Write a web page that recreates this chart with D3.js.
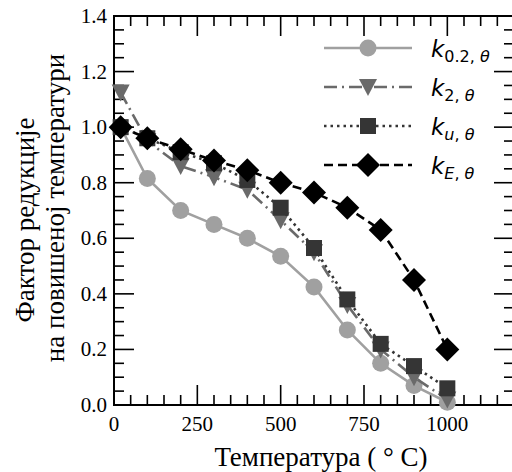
<!DOCTYPE html>
<meta charset="utf-8">
<body style="margin:0;background:#fff">
<style>
text.tick { font-family: "Liberation Serif", "Times New Roman", serif; font-size: 21px; fill: #000; }
text.lbl { font-family: "Liberation Serif", "Times New Roman", serif; font-size: 27px; fill: #000; }
text.leg { font-family: "DejaVu Sans", sans-serif; font-size: 23px; fill: #000; }
</style>
<script src="https://d3js.org/d3.v7.min.js"></script>
<script>

var temps = [20, 100, 200, 300, 400, 500, 600, 700, 800, 900, 1000];

var k02 = [1.00, 0.815, 0.70, 0.65, 0.60, 0.535, 0.425, 0.27, 0.15, 0.07, 0.01];
var k2  = [1.125, 0.95, 0.86, 0.82, 0.775, 0.665, 0.55, 0.36, 0.20, 0.10, 0.02];
var ku  = [1.00, 0.96, 0.91, 0.87, 0.81, 0.71, 0.565, 0.38, 0.22, 0.14, 0.06];
var kE  = [1.00, 0.96, 0.92, 0.88, 0.845, 0.80, 0.765, 0.71, 0.63, 0.45, 0.20];

var xTicks = [0, 250, 500, 750, 1000];
var yTicks = [0.0, 0.2, 0.4, 0.6, 0.8, 1.0, 1.2, 1.4];

var series = [
  {name: "0.2", vals: k02, color: "#a0a0a0", dash: null, shape: "circle"},
  {name: "2",   vals: k2,  color: "#6a6a6a", dash: "13,5,2,5", shape: "tri"},
  {name: "u",   vals: ku,  color: "#353535", dash: "2.5,4", shape: "square"},
  {name: "E",   vals: kE,  color: "#000000", dash: "9,5", shape: "diamond"}
];

var svg = d3.select("body").append("svg")
    .attr("width", 512)
    .attr("height", 472);

var x = d3.scaleLinear().domain([0, 1200]).range([114, 514]);
var y = d3.scaleLinear().domain([0, 1.4]).range([405, 16]);

// inward ticks on all four sides
var g = svg.append("g");
d3.range(0, 1201, 50).forEach(function(v) {
  var len = v % 250 === 0 ? 20 : 10;
  g.append("line").attr("x1", x(v)).attr("x2", x(v)).attr("y1", y(0)).attr("y2", y(0) - len);
  g.append("line").attr("x1", x(v)).attr("x2", x(v)).attr("y1", y(1.4)).attr("y2", y(1.4) + len);
});
d3.range(0, 29).forEach(function(i) {
  var v = i * 0.05;
  var len = i % 4 === 0 ? 20 : 10;
  g.append("line").attr("x1", x(0)).attr("x2", x(0) + len).attr("y1", y(v)).attr("y2", y(v));
  g.append("line").attr("x1", x(1200)).attr("x2", x(1200) - len).attr("y1", y(v)).attr("y2", y(v));
});
g.selectAll("line").attr("stroke", "#000").attr("stroke-width", 1.6);

svg.append("rect")
    .attr("x", x(0)).attr("y", y(1.4))
    .attr("width", x(1200) - x(0)).attr("height", y(0) - y(1.4))
    .attr("fill", "none").attr("stroke", "#000").attr("stroke-width", 2);

svg.selectAll(".xt").data(xTicks).enter().append("text")
    .attr("class", "tick")
    .attr("x", function(d) { return x(d); })
    .attr("y", 431)
    .attr("text-anchor", "middle")
    .text(function(d) { return d; });

svg.selectAll(".yt").data(yTicks).enter().append("text")
    .attr("class", "tick")
    .attr("x", 107)
    .attr("y", function(d) { return y(d) + 7; })
    .attr("text-anchor", "end")
    .text(function(d) { return d.toFixed(1); });

svg.append("text").attr("class", "lbl")
    .attr("x", 321).attr("y", 466)
    .attr("text-anchor", "middle")
    .text("Температура ( ° C)");

svg.append("text").attr("class", "lbl")
    .attr("transform", "translate(34,220) rotate(-90)")
    .attr("text-anchor", "middle")
    .text("Фактор редукције");
svg.append("text").attr("class", "lbl")
    .attr("transform", "translate(64,208) rotate(-90)")
    .attr("text-anchor", "middle")
    .text("на повишеној температури");

function marker(sel, shape, color) {
  if (shape === "circle") {
    sel.append("circle").attr("r", 8.5).attr("fill", color);
  } else if (shape === "square") {
    sel.append("rect").attr("x", -8).attr("y", -8).attr("width", 16).attr("height", 16).attr("fill", color);
  } else if (shape === "tri") {
    sel.append("path").attr("d", "M-9,-8L9,-8L0,9Z").attr("fill", color);
  } else {
    sel.append("path").attr("d", "M0,-12L12,0L0,12L-12,0Z").attr("fill", color);
  }
}

var line = d3.line()
    .x(function(d, i) { return x(temps[i]); })
    .y(function(d) { return y(d); });

series.forEach(function(s) {
  svg.append("path")
      .datum(s.vals)
      .attr("d", line)
      .attr("fill", "none")
      .attr("stroke", s.color)
      .attr("stroke-width", 2.6)
      .attr("stroke-dasharray", s.dash);
  s.vals.forEach(function(v, i) {
    var m = svg.append("g").attr("transform", "translate(" + x(temps[i]) + "," + y(v) + ")");
    marker(m, s.shape, s.color);
  });
});

// legend
series.forEach(function(s, i) {
  var ly = 48 + i * 39;
  svg.append("line")
      .attr("x1", 324).attr("x2", 412).attr("y1", ly).attr("y2", ly)
      .attr("stroke", s.color).attr("stroke-width", 2.6)
      .attr("stroke-dasharray", s.dash);
  var m = svg.append("g").attr("transform", "translate(368," + ly + ")");
  marker(m, s.shape, s.color);
  var t = svg.append("text").attr("class", "leg").attr("x", 431).attr("y", ly + 9);
  t.append("tspan").attr("font-style", "italic").text("k");
  var sub = t.append("tspan").attr("font-size", "16px").attr("dy", 5);
  if (s.name === "u" || s.name === "E") {
    sub.append("tspan").attr("font-style", "italic").text(s.name);
  } else {
    sub.append("tspan").text(s.name);
  }
  sub.append("tspan").text(", ");
  sub.append("tspan").attr("font-style", "italic").text("θ");
});

</script>
</body>
